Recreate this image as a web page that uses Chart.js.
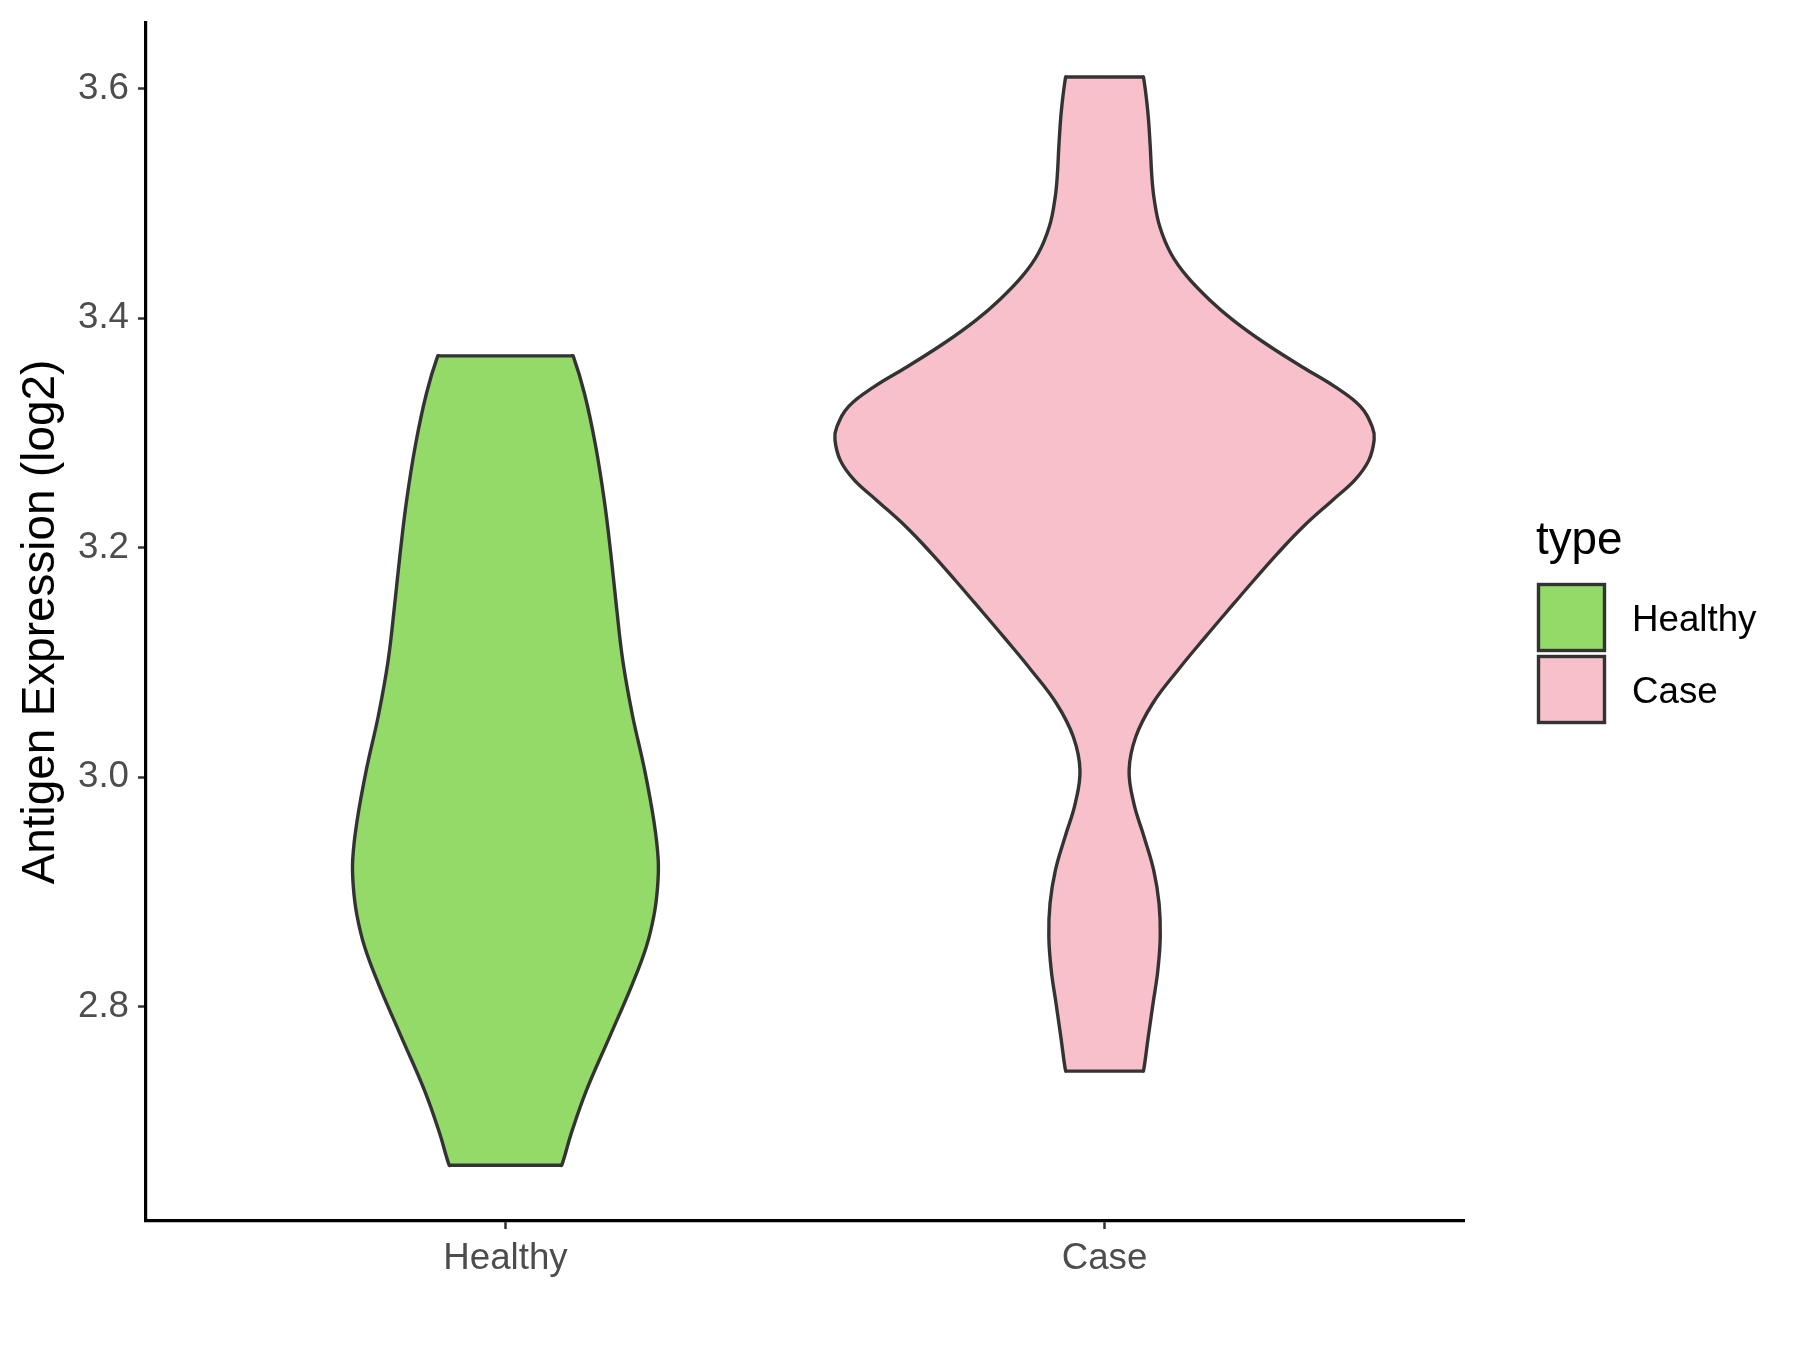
<!DOCTYPE html>
<html><head><meta charset="utf-8">
<script src="https://cdn.jsdelivr.net/npm/chart.js@4.4.0/dist/chart.umd.min.js"></script>
<style>html,body{margin:0;padding:0;background:#fff}#wrap{width:1800px;height:1350px}</style>
</head><body><div id="wrap"><canvas id="c" width="1800" height="1350"></canvas></div>
<script>
// ---- data ----
const categories = ['Healthy', 'Case'];
const fillColors = ['#93DA69', '#F8C0CB'];
const yTicks = [2.8, 3.0, 3.2, 3.4, 3.6];
const yTitle = 'Antigen Expression (log2)';
const legendTitle = 'type';

// violin outlines: value (log2) and half-width (in category units)
const healthyValues = [3.367, 3.334, 3.290, 3.241, 3.194, 3.150, 3.101, 3.054, 3.007, 2.961, 2.928, 2.905, 2.880, 2.852, 2.820, 2.774, 2.727, 2.690, 2.662];
const healthyHalfWidths = [0.113, 0.132, 0.150, 0.165, 0.176, 0.185, 0.196, 0.212, 0.232, 0.248, 0.255, 0.254, 0.248, 0.235, 0.212, 0.174, 0.135, 0.110, 0.094];
const caseValues = [3.610, 3.581, 3.552, 3.523, 3.503, 3.480, 3.456, 3.436, 3.416, 3.398, 3.378, 3.358, 3.340, 3.323, 3.305, 3.294, 3.276, 3.259, 3.242, 3.218, 3.195, 3.172, 3.152, 3.122, 3.093, 3.064, 3.035, 3.006, 2.977, 2.948, 2.919, 2.890, 2.861, 2.832, 2.803, 2.774, 2.744];
const caseHalfWidths = [0.065, 0.072, 0.076, 0.079, 0.083, 0.092, 0.111, 0.138, 0.175, 0.215, 0.268, 0.328, 0.385, 0.427, 0.447, 0.450, 0.441, 0.418, 0.382, 0.331, 0.289, 0.250, 0.217, 0.168, 0.122, 0.080, 0.052, 0.041, 0.049, 0.066, 0.082, 0.091, 0.093, 0.089, 0.081, 0.073, 0.065];

const FONT = "'Liberation Sans', Arial, Helvetica, sans-serif";

function violinPolygon(center, values, hw) {
  const n = values.length;
  const pts = [];
  const top = values[0], bot = values[n - 1];
  pts.push({x: center, y: top});
  pts.push({x: center + hw[0] * 0.97, y: top});
  for (let i = 0; i < n; i++) pts.push({x: center + hw[i], y: values[i]});
  pts.push({x: center + hw[n - 1] * 0.97, y: bot});
  pts.push({x: center - hw[n - 1] * 0.97, y: bot});
  for (let i = n - 1; i >= 0; i--) pts.push({x: center - hw[i], y: values[i]});
  pts.push({x: center - hw[0] * 0.97, y: top});
  pts.push({x: center, y: top});
  return pts;
}

const violins = [
  {values: healthyValues, hw: healthyHalfWidths},
  {values: caseValues, hw: caseHalfWidths}
];

const datasets = violins.map((v, i) => ({
  label: categories[i],
  data: violinPolygon(i + 1, v.values, v.hw),
  showLine: true,
  fill: 'shape',
  backgroundColor: fillColors[i],
  borderColor: '#333333',
  borderWidth: 3.4,
  borderJoinStyle: 'round',
  tension: 0.4,
  pointRadius: 0,
  pointHoverRadius: 0
}));

const legendPlugin = {
  id: 'ggLegend',
  afterDraw(chart) {
    const ctx = chart.ctx;
    ctx.save();
    ctx.fillStyle = '#000';
    ctx.textAlign = 'left';
    ctx.textBaseline = 'alphabetic';
    ctx.font = `45.8px ${FONT}`;
    ctx.fillText(legendTitle, 1536, 554);
    const boxX = 1538.5, boxY0 = 584.5, box = 66, step = 72;
    categories.forEach((c, i) => {
      const y = boxY0 + i * step;
      ctx.fillStyle = fillColors[i];
      ctx.fillRect(boxX, y, box, box);
      ctx.strokeStyle = '#333333';
      ctx.lineWidth = 3.4;
      ctx.strokeRect(boxX, y, box, box);
      ctx.fillStyle = '#000';
      ctx.font = `36.7px ${FONT}`;
      ctx.fillText(c, 1632, y + box / 2 + 13);
    });
    ctx.restore();
  }
};

new Chart(document.getElementById('c'), {
  type: 'scatter',
  data: {datasets},
  plugins: [legendPlugin],
  options: {
    responsive: false,
    devicePixelRatio: 1,
    animation: false,
    events: [],
    layout: {padding: {left: 0, top: 23, right: 336, bottom: 0}},
    plugins: {legend: {display: false}, tooltip: {enabled: false}},
    scales: {
      x: {
        type: 'linear', min: 0.4, max: 2.6,
        afterBuildTicks: s => { s.ticks = categories.map((_, i) => ({value: i + 1})); },
        afterFit: s => { s.height = 129; s.paddingLeft = 0; s.paddingRight = 0; },
        ticks: {
          callback: v => categories[Math.round(v) - 1],
          font: {family: FONT, size: 36.7}, color: '#4D4D4D',
          padding: 7.5, autoSkip: false, maxRotation: 0
        },
        grid: {drawOnChartArea: false, tickLength: 8, tickWidth: 2.5, tickColor: '#333333', color: '#333333'},
        border: {display: true, color: '#000000', width: 3.2}
      },
      y: {
        type: 'linear', min: 2.6134, max: 3.657,
        afterBuildTicks: s => { s.ticks = yTicks.map(v => ({value: v})); },
        afterFit: s => { s.width = 146; s.paddingTop = 0; s.paddingBottom = 0; },
        ticks: {
          callback: v => Number(v).toFixed(1),
          font: {family: FONT, size: 36.7}, color: '#4D4D4D', padding: 9
        },
        grid: {drawOnChartArea: false, tickLength: 8, tickWidth: 2.5, tickColor: '#333333', color: '#333333'},
        border: {display: true, color: '#000000', width: 3.2},
        title: {display: true, text: yTitle, color: '#000000', font: {family: FONT, size: 45.8}, padding: {top: 14, bottom: 0}}
      }
    }
  }
});
</script></body></html>
